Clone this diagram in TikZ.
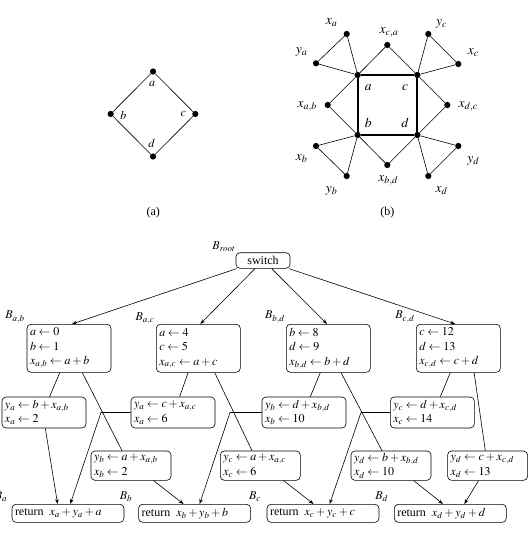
\documentclass[tikz,border=0pt]{standalone}
\usepackage{mathptmx}
\usepackage[no-math]{fontspec}
\setmainfont{Liberation Serif}
\usetikzlibrary{arrows.meta,positioning}

\begin{document}
\begin{tikzpicture}[x=1pt,y=-1pt,>={Stealth[length=5pt,width=3.6pt]},
  every node/.style={font=\fontsize{12}{14.5}\selectfont},
  biglbl/.style={font=\fontsize{13.5}{16}\selectfont},
  dot/.style={circle,fill,inner sep=0pt,minimum size=6.2pt},
  thin line/.style={line width=0.6pt},
  blk/.style={draw,thin line,rounded corners=4pt,align=left,anchor=north west,inner xsep=3pt,inner ysep=1pt},
  blkthree/.style={blk,text width=78pt,minimum height=48pt},
  blktwo/.style={blk,text width=#1,minimum height=31pt},
  retblk/.style={blk,text width=106pt,minimum height=18pt}]
\useasboundingbox (0,0) rectangle (531,534);
% (a)
\node[dot] (pa) at (153,71.5) {};
\node[dot] (pb) at (110.7,114) {};
\node[dot] (pc) at (195.3,114) {};
\node[dot] (pd) at (153,156.5) {};
\draw[thin line] (pa)--(pb)--(pd)--(pc)--(pa);
\node (la) at (152,84) {$a$};
\node (lb) at (123.3,115) {$b$};
\node (lc) at (183.3,114) {$c$};
\node (ld) at (151.7,143.3) {$d$};
\node (capa) at (153.3,212.7) {(a)};
% (b)
\node[dot] (a) at (357.7,75) {};
\node[dot] (c) at (417.3,75) {};
\node[dot] (b) at (357.7,135) {};
\node[dot] (d) at (417.3,135) {};
\draw[line width=1.9pt] (a)--(c);\draw[line width=1.9pt] (c)--(d);
\draw[line width=1.9pt] (d)--(b);\draw[line width=1.9pt] (b)--(a);
\node[dot] (xa) at (346.7,34) {};
\node[dot] (ya) at (316,63.3) {};
\node[dot] (xca) at (387.3,45) {};
\node[dot] (yc) at (428.3,34) {};
\node[dot] (xc) at (458.3,64) {};
\node[dot] (xab) at (327.7,105) {};
\node[dot] (xdc) at (447.3,105) {};
\node[dot] (xb) at (316,146) {};
\node[dot] (yb) at (346.7,176) {};
\node[dot] (xbd) at (387.3,165) {};
\node[dot] (xd) at (428.3,176) {};
\node[dot] (yd) at (458.3,146) {};
\draw[thin line] (a)--(xa)--(ya)--(a);\draw[thin line] (c)--(yc)--(xc)--(c);
\draw[thin line] (b)--(xb)--(yb)--(b);\draw[thin line] (d)--(xd)--(yd)--(d);
\draw[thin line] (a)--(xca)--(c);\draw[thin line] (a)--(xab)--(b);
\draw[thin line] (c)--(xdc)--(d);\draw[thin line] (b)--(xbd)--(d);
\node[biglbl] (lsa) at (368.3,87.3) {$a$};
\node[biglbl] (lsc) at (405,87.3) {$c$};
\node[biglbl] (lsb) at (368.3,123.3) {$b$};
\node[biglbl] (lsd) at (405,123.3) {$d$};
\node[biglbl] (lxa) at (331.7,22.5) {$x_a$};
\node[biglbl] (lya) at (301.7,51.5) {$y_a$};
\node[biglbl] (lxca) at (389,32.5) {$x_{c,a}$};
\node[biglbl] (lyc) at (441.7,23.5) {$y_c$};
\node[biglbl] (lxc) at (473.3,52.5) {$x_c$};
\node[biglbl] (lxab) at (307.3,106.5) {$x_{a,b}$};
\node[biglbl] (lxdc) at (468.3,106.5) {$x_{d,c}$};
\node[biglbl] (lxb) at (301.7,159) {$x_b$};
\node[biglbl] (lyb) at (331.7,190.5) {$y_b$};
\node[biglbl] (lxbd) at (388.3,180.5) {$x_{b,d}$};
\node[biglbl] (lxd) at (441.7,190.5) {$x_d$};
\node[biglbl] (lyd) at (473.3,160.5) {$y_d$};
\node (capb) at (387.3,212.7) {(b)};
% (c)
\node[draw,thin line,rounded corners=4pt,minimum width=54pt,minimum height=15.6pt,inner sep=1pt] (switch) at (263,260.5) {switch};
\node (lroot) at (224,246.5) {$B_{root}$};
\node[blkthree] (bab) at (26.7,324) {$a\leftarrow 0$\\$b\leftarrow 1$\\$x_{a,b}\leftarrow a+b$};
\node[blkthree] (bac) at (156,324) {$a\leftarrow 4$\\$c\leftarrow 5$\\$x_{a,c}\leftarrow a+c$};
\node[blkthree] (bbd) at (286,324) {$b\leftarrow 8$\\$d\leftarrow 9$\\$x_{b,d}\leftarrow b+d$};
\node[blkthree] (bcd) at (416,324) {$c\leftarrow 12$\\$d\leftarrow 13$\\$x_{c,d}\leftarrow c+d$};
\node (lab) at (15,317) {$B_{a,b}$};
\node (lac) at (145,318.5) {$B_{a,c}$};
\node (lbd) at (275,317) {$B_{b,d}$};
\node (lcd) at (405,317) {$B_{c,d}$};
\draw[->,thin line] ([xshift=1pt]switch.south west)--([xshift=3pt]bab.north);
\draw[->,thin line] ([xshift=-8pt]switch.south)--([xshift=2pt]bac.north);
\draw[->,thin line] ([xshift=8.7pt]switch.south)--([xshift=-1.3pt]bbd.north);
\draw[->,thin line] ([xshift=-1.5pt]switch.south east)--([xshift=-3pt]bcd.north);
\node[blktwo=78pt] (m1) at (1.7,396.7) {$y_a\leftarrow b+x_{a,b}$\\$x_a\leftarrow 2$};
\node[blktwo=78pt] (m2) at (130.7,396.7) {$y_a\leftarrow c+x_{a,c}$\\$x_a\leftarrow 6$};
\node[blktwo=78pt] (m5) at (261.7,396.7) {$y_b\leftarrow d+x_{b,d}$\\$x_b\leftarrow 10$};
\node[blktwo=78pt] (m6) at (390,396.7) {$y_c\leftarrow d+x_{c,d}$\\$x_c\leftarrow 14$};
\node[blktwo=74pt,minimum height=29.3pt] (m3) at (90.7,450.7) {$y_b\leftarrow a+x_{a,b}$\\$x_b\leftarrow 2$};
\node[blktwo=74pt,minimum height=29.3pt] (m4) at (220,450.7) {$y_c\leftarrow a+x_{a,c}$\\$x_c\leftarrow 6$};
\node[blktwo=74pt,minimum height=29.3pt] (m7) at (350.7,450.7) {$y_d\leftarrow b+x_{b,d}$\\$x_d\leftarrow 10$};
\node[blktwo=74pt,minimum height=29.3pt] (m8) at (447.3,450.7) {$y_d\leftarrow c+x_{c,d}$\\$x_d\leftarrow 13$};
\draw[thin line] ([xshift=-9.2pt]bab.south)--([xshift=5.6pt]m1.north);
\draw[thin line] ([xshift=13.3pt]bab.south)--([xshift=-9pt]m3.north);
\draw[thin line] ([xshift=-10.2pt]bac.south)--([xshift=6.6pt]m2.north);
\draw[thin line] ([xshift=16.4pt]bac.south)--([xshift=-8.3pt]m4.north);
\draw[thin line] ([xshift=-8pt]bbd.south)--([xshift=6.3pt]m5.north);
\draw[thin line] ([xshift=12.7pt]bbd.south)--([xshift=-9pt]m7.north);
\draw[thin line] ([xshift=-8pt]bcd.south)--([xshift=8pt]m6.north);
\draw[thin line] ([xshift=15.8pt]bcd.south)--([xshift=-2.3pt]m8.north);
\node[retblk] (reta) at (11.7,504) {return\enspace$x_a+y_a+a$};
\node[retblk] (retb) at (138.3,504) {return\enspace$x_b+y_b+b$};
\node[retblk] (retc) at (266.7,504) {return\enspace$x_c+y_c+c$};
\node[retblk] (retd) at (394,504) {return\enspace$x_d+y_d+d$};
\node (lba) at (1,497) {$B_a$};
\node (lbb) at (126,497) {$B_b$};
\node (lbc) at (255,497) {$B_c$};
\node (lbd2) at (381.7,497) {$B_d$};
\draw[->,thin line] ([xshift=1.3pt]m1.south)--([xshift=-10.4pt]reta.north);
\draw[->,thin line] (m2.west)--++(-29.7,0)--([xshift=2.3pt]reta.north);
\draw[->,thin line] ([xshift=22.6pt]m3.south)--([xshift=-11pt]retb.north);
\draw[->,thin line] (m5.west)--++(-31.7,0)--([xshift=5pt]retb.north);
\draw[->,thin line] ([xshift=23.3pt]m4.south)--([xshift=-9.4pt]retc.north);
\draw[->,thin line] (m6.west)--++(-29,0)--([xshift=6.6pt]retc.north);
\draw[->,thin line] ([xshift=22.6pt]m7.south)--([xshift=-7.3pt]retd.north);
\draw[->,thin line] ([xshift=-9pt]m8.south)--([xshift=14pt]retd.north);
\node (capc) at (272,539.5) {(c)};
\end{tikzpicture}
\end{document}
